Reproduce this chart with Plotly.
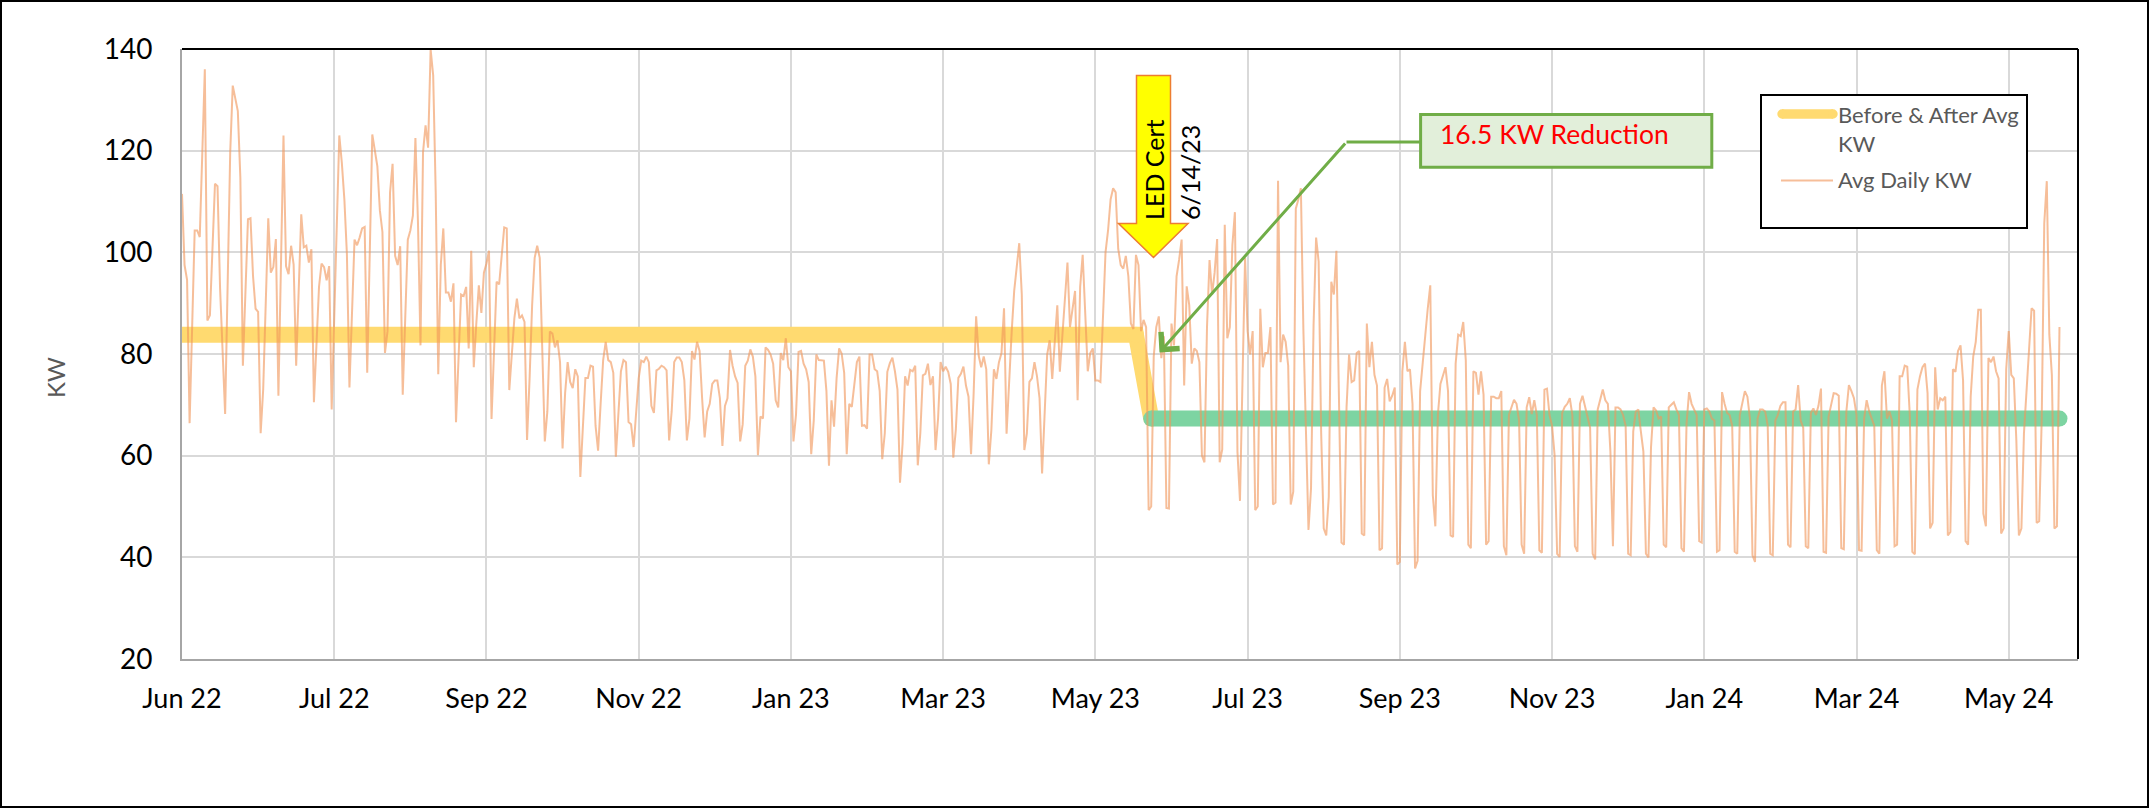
import pandas as pd
import plotly.graph_objects as go

# ---------------- data ----------------
start_date = "2022-06-01"
tick_labels = ["Jun 22", "Jul 22", "Sep 22", "Nov 22", "Jan 23", "Mar 23", "May 23",
               "Jul 23", "Sep 23", "Nov 23", "Jan 24", "Mar 24", "May 24"]
tick_step_days = 60
x_end_day = 747.3
y_ticks = [20, 40, 60, 80, 100, 120, 140]

# Avg Daily KW, Jun 2022 - Dec 2022 (day offset from start_date, value)
pre_days = [0, 1, 2, 3, 5, 6, 7, 9, 10, 11, 13, 14, 15, 17, 19, 20, 22, 23, 24, 26,
            27, 28, 29, 30, 31, 32, 34, 35, 36, 37, 38, 40, 41, 42, 43, 44, 45, 47, 48, 49,
            50, 51, 52, 54, 55, 56, 57, 58, 59, 62, 63, 64, 65, 66, 68, 69, 70, 71, 72, 73,
            75, 76, 77, 78, 79, 80, 81, 82, 83, 84, 85, 86, 87, 89, 90, 91, 92,
            93, 94, 95, 96, 97, 98, 99, 100, 101, 102, 103, 104, 105, 106, 107, 108,
            110, 111, 112, 113, 114, 115, 116, 117, 118, 119, 120, 121, 122,
            124, 125, 126, 127, 128, 129,
            131, 132, 133, 134, 135, 136, 137, 138, 139, 140, 141, 142, 143, 144, 145, 146,
            147, 148, 149, 150, 151, 152, 153, 154, 155, 156, 157,
            159, 160, 161, 162, 163, 164, 165, 166, 167, 168, 169, 170, 171,
            173, 174, 175, 176, 177, 178, 179, 180, 181, 182, 183, 184, 185]
pre_kw = [111.5, 97.5, 94.6, 66.4, 104.3, 104.3, 103, 136, 86.6, 87.6,
          113.5, 113, 93, 68.2, 119.7, 132.8, 127.8, 114.7, 77.7, 106.5,
          106.7, 95.3, 88.9, 88.3, 64.4, 73, 106.7, 96, 97.1, 102.6,
          71.8, 123, 97.3, 95.7, 101.3, 97.6, 77.7, 107.5, 101, 101.3,
          98, 100.6, 70.5, 93.2, 97.8, 97.1, 94.5, 97.3, 69.1, 123,
          117.6, 110.4, 99.6, 73.4, 102.5, 101.4, 102.9, 104.7, 105, 76.3,
          123.2, 119.7, 116.9, 108.2, 104, 80.2, 84.5, 111.8, 117.4, 99.3,
          97.5, 101.2, 72, 102.5, 104.3, 107.2, 122.5,
          106, 81.7, 119.7, 125, 120.6, 139.9, 134.8, 111.8, 76, 97.5, 104.7, 92.1, 92.1, 90.3, 93.9, 66.6,
          91.7, 91.4, 93.2, 81.1, 100.3, 77.4, 86, 93.5, 88.1, 96, 97.8, 100.3, 67.2,
          94.2, 93.7, 99.5, 104.9, 104.7, 72.9,
          87, 90.9, 87, 87.6, 86.3, 63.1, 75.2, 89.6, 98.9, 101.3, 98.9, 78.8, 62.8, 68.7, 84.4, 84,
          81.3, 82.7, 78.4, 61.4, 72.3, 78.4, 74.5, 73.3, 77, 75.6, 55.8,
          75.3, 75.3, 77.7, 77.5, 65.9, 61, 70.2, 78.8, 82.4, 78.8, 78.4, 76.3, 59.8,
          76.6, 78.8, 78.4, 66.6, 66.2, 61.7, 68, 75.2, 78.7, 78.4, 79.5, 78.4, 69.8]

# Avg Daily KW, one value per day from day 186 (Dec 4 2022) to day 740 (Jun 10 2024)
daily_first_day = 186
daily_kw = [
    68.4, 76.8, 77.1, 77.7, 77.4, 76.8, 63.0, 68.7, 78.4, 79.3,
    79.3, 78.4, 74.8, 63.0, 67.3, 80.6, 78.9, 82.4, 80.6, 71.3,
    63.6, 68.7, 70.2, 74.1, 74.8, 74.8, 71.3, 61.9, 69.8, 71.3,
    80.8, 77.7, 75.6, 74.3, 62.8, 66.2, 77.7, 78.7, 80.9, 79.5,
    75.6, 60.1, 67.7, 67.3, 81.3, 80.8, 79.9, 78.1, 70.9, 69.5,
    80.2, 78.8, 83.1, 77.4, 76.6, 62.8, 68.0, 80.4, 80.6, 78.1,
    77.0, 74.5, 60.3, 66.9, 79.9, 78.8, 78.8, 78.7, 72.7, 58.0,
    70.9, 65.7, 75.2, 81.1, 80.1, 76.3, 60.3, 70.2, 69.6, 74.1,
    78.4, 79.5, 65.9, 66.0, 65.3, 79.9, 79.9, 77.0, 76.6, 72.7,
    59.3, 64.4, 76.5, 78.2, 79.3, 76.6, 73.0, 54.7, 62.3, 75.6,
    73.8, 76.9, 76.6, 77.7, 58.1, 64.4, 75.8, 76.1, 78.1, 73.9,
    75.6, 61.1, 67.3, 78.4, 76.6, 77.5, 76.5, 74.1, 59.6, 65.1,
    75.3, 76.1, 77.5, 73.8, 71.6, 60.3, 72.0, 87.4, 79.7, 77.4,
    79.5, 77.0, 58.3, 65.0, 77.0, 75.1, 78.4, 80.2, 89.0, 64.3,
    74.8, 84.2, 92.4, 97.6, 101.8, 91.7, 61.1, 64.4, 74.5, 75.2,
    78.4, 75.6, 71.3, 56.5, 68.0, 79.9, 82.7, 75.1, 82.4, 89.6,
    76.5, 84.0, 91.7, 98.0, 85.3, 88.9, 92.4, 70.9, 93.2, 99.5,
    86.1, 76.6, 80.2, 81.1, 74.8, 74.8, 74.5, 87.4, 100.0, 104.3,
    110.4, 112.6, 111.8, 100.7, 97.5, 96.8, 99.3, 95.3, 86.0, 84.9,
    99.5, 97.5, 84.5, 86.7, 85.3, 49.3, 50.0, 79.5, 85.3, 87.4,
    79.2, 83.5, 49.7, 49.6, 86.0, 81.7, 95.3, 98.5, 102.5, 73.8,
    93.3, 89.6, 78.1, 81.1, 80.6, 78.4, 60.0, 58.7, 85.3, 98.5,
    91.7, 96.0, 102.6, 58.7, 61.2, 105.4, 83.1, 85.3, 101.4, 107.9,
    60.8, 51.1, 77.4, 98.9, 84.5, 79.9, 84.5, 49.3, 50.0, 88.9,
    77.4, 80.2, 80.2, 85.3, 50.4, 50.8, 114.1, 78.4, 83.8, 82.4,
    77.7, 50.4, 52.9, 108.6, 110.4, 112.6, 84.5, 65.1, 45.4, 53.6,
    85.6, 102.9, 98.2, 64.4, 45.7, 44.3, 51.9, 94.2, 91.7, 100.3,
    68.7, 42.9, 42.5, 69.5, 79.9, 74.5, 74.8, 80.2, 80.6, 44.7,
    44.3, 86.0, 77.4, 82.4, 75.9, 73.8, 41.4, 41.8, 73.4, 75.1,
    70.7, 71.8, 73.4, 38.6, 39.1, 76.6, 82.4, 76.6, 77.0, 70.2,
    37.8, 39.3, 72.7, 78.4, 84.2, 88.9, 93.5, 52.2, 46.1, 68.0,
    74.1, 75.6, 77.4, 72.7, 44.3, 44.0, 78.1, 83.8, 83.5, 86.3,
    78.8, 42.5, 41.8, 76.6, 76.3, 72.0, 76.6, 72.0, 42.5, 43.2,
    71.6, 71.6, 71.3, 71.3, 72.7, 42.2, 40.4, 68.0, 69.5, 71.0,
    70.2, 66.9, 42.5, 40.7, 69.5, 71.5, 68.2, 70.9, 68.0, 41.4,
    40.9, 73.0, 73.2, 68.0, 65.9, 60.1, 40.7, 40.1, 68.4, 69.6,
    70.2, 71.3, 68.0, 42.2, 41.1, 70.2, 71.8, 69.8, 68.0, 65.5,
    40.7, 39.6, 69.1, 70.9, 73.0, 70.9, 70.2, 60.8, 42.2, 69.5,
    69.5, 69.1, 68.0, 65.9, 40.7, 40.4, 64.8, 68.7, 69.1, 64.8,
    60.8, 40.7, 40.0, 61.6, 69.5, 68.9, 67.3, 67.7, 42.5, 42.0,
    69.5, 70.0, 70.5, 69.1, 68.0, 41.8, 41.1, 66.2, 72.5, 70.2,
    69.1, 68.0, 43.2, 42.9, 69.1, 69.3, 68.7, 67.3, 66.9, 41.1,
    41.4, 72.5, 70.2, 68.4, 68.0, 65.9, 41.1, 40.7, 68.0, 70.3,
    72.7, 71.6, 67.3, 40.4, 39.1, 67.3, 69.1, 69.1, 68.7, 65.9,
    40.7, 40.4, 66.9, 68.0, 69.8, 70.5, 70.5, 42.5, 42.0, 68.7,
    69.1, 73.9, 66.9, 65.5, 42.2, 41.8, 68.4, 69.3, 68.0, 69.8,
    73.2, 41.1, 40.9, 67.7, 69.8, 72.3, 72.2, 71.8, 41.8, 41.6,
    68.7, 73.9, 72.7, 71.3, 68.0, 41.4, 41.3, 67.3, 70.9, 68.7,
    67.3, 65.9, 41.4, 40.7, 73.8, 76.6, 67.3, 68.7, 66.9, 42.2,
    42.5, 75.6, 75.6, 77.7, 77.5, 68.0, 41.1, 40.6, 73.0, 75.6,
    77.4, 78.1, 72.3, 45.7, 46.8, 77.4, 69.1, 71.3, 70.9, 71.6,
    44.3, 45.0, 77.0, 76.5, 80.6, 81.7, 74.8, 43.2, 42.5, 71.6,
    79.5, 82.4, 88.7, 88.7, 48.6, 46.1, 79.2, 78.4, 79.5, 76.6,
    75.2, 44.7, 45.7, 77.0, 84.5, 75.9, 75.2, 63.0, 44.3, 45.7,
    64.4, 73.0, 80.2, 89.0, 88.5, 46.8, 47.1, 67.3, 105.7, 114.0,
    83.8, 75.9, 45.7, 46.1, 85.3,
]

# Before & After Avg KW (day offsets, values)
before_after_day = [0, 376, 382]
before_after_kw = [83.8, 83.8, 67.3]
after_day = [382, 740]
after_kw = [67.3, 67.3]

# ---------------- helpers ----------------
base = pd.Timestamp(start_date)


def to_dates(days):
    return [base + pd.Timedelta(days=float(d)) for d in days]


kw_day = pre_days + list(range(daily_first_day, daily_first_day + len(daily_kw)))
kw_value = pre_kw + daily_kw

W, H = 2149, 808
L, R, T, B = 182, 2078, 49, 659


def px(x):
    return (x - L) / (R - L)


def py(y):
    return (B - y) / (B - T)


FONT = "Lato, 'Liberation Sans', sans-serif"
YELLOW = "#FFDA70"
GREEN = "#7DD4A2"
ORANGE = "rgba(240,150,90,0.62)"
GRID = "#D9D9D9"
AXIS = "#A6A6A6"
CALLOUT = "#70AD47"
BAND = 16

fig = go.Figure()
fig.add_trace(go.Scatter(x=to_dates(before_after_day), y=before_after_kw, mode="lines+markers",
                         name="Before & After Avg KW",
                         line=dict(color=YELLOW, width=BAND),
                         marker=dict(color=YELLOW, size=[0, BAND, BAND], line=dict(width=0)),
                         showlegend=False))
fig.add_trace(go.Scatter(x=to_dates(after_day), y=after_kw, mode="lines+markers",
                         name="After Avg KW",
                         line=dict(color=GREEN, width=BAND),
                         marker=dict(color=GREEN, size=BAND, line=dict(width=0)),
                         showlegend=False))
fig.add_trace(go.Scatter(x=to_dates(kw_day), y=kw_value, mode="lines",
                         name="Avg Daily KW",
                         line=dict(color=ORANGE, width=2), showlegend=False))

tickvals = to_dates([i * tick_step_days for i in range(len(tick_labels))])

fig.update_layout(
    width=W, height=H,
    margin=dict(l=L, r=W - R, t=T, b=H - B),
    paper_bgcolor="white", plot_bgcolor="white",
    font=dict(family=FONT, color="black"),
    showlegend=False,
    xaxis=dict(type="date", range=to_dates([0, x_end_day]), tickvals=tickvals,
               ticktext=tick_labels, showgrid=True, gridcolor=GRID, gridwidth=1.5,
               showline=True, linecolor=AXIS, linewidth=2, ticks="", zeroline=False,
               tickfont=dict(family=FONT, size=27, color="black"), ticklabelstandoff=15),
    yaxis=dict(range=[20, 140], tickvals=y_ticks, showgrid=True, gridcolor=GRID,
               gridwidth=1.5, showline=True, linecolor=AXIS, linewidth=2, ticks="",
               zeroline=False, tickfont=dict(family=FONT, size=28, color="black"),
               ticklabelstandoff=22),
)

shapes = []
# outer chart border
shapes.append(dict(type="rect", xref="paper", yref="paper", x0=px(1), x1=px(W - 1),
                   y0=py(H - 1), y1=py(1), line=dict(color="black", width=2)))
# plot area top and right border
shapes.append(dict(type="line", xref="paper", yref="paper", x0=0, x1=1, y0=1, y1=1,
                   line=dict(color="black", width=2)))
shapes.append(dict(type="line", xref="paper", yref="paper", x0=1, x1=1, y0=0, y1=1,
                   line=dict(color="black", width=2)))

# legend box
shapes.append(dict(type="rect", xref="paper", yref="paper", x0=px(1761), x1=px(2027),
                   y0=py(228), y1=py(95), fillcolor="white",
                   line=dict(color="black", width=2)))
shapes.append(dict(type="rect", xref="paper", yref="paper", x0=px(1782), x1=px(1833),
                   y0=py(118.7), y1=py(109.3), fillcolor=YELLOW, line=dict(width=0)))
for cx in (1782, 1833):
    shapes.append(dict(type="circle", xref="paper", yref="paper", x0=px(cx - 4.7),
                       x1=px(cx + 4.7), y0=py(118.7), y1=py(109.3), fillcolor=YELLOW,
                       line=dict(width=0)))
shapes.append(dict(type="line", xref="paper", yref="paper", x0=px(1781), x1=px(1833),
                   y0=py(180.5), y1=py(180.5), line=dict(color=ORANGE, width=2)))

# LED Cert block arrow
pts = [(1136.5, 75.5), (1170.5, 75.5), (1170.5, 223.5), (1188, 223.5), (1153.5, 257.5),
       (1118.5, 223.5), (1136.5, 223.5)]
path = "M " + " L ".join(f"{px(a):.5f},{py(b):.5f}" for a, b in pts) + " Z"
shapes.append(dict(type="path", xref="paper", yref="paper", path=path,
                   fillcolor="#FFFF00", line=dict(color="#ED7D31", width=1.5)))

# callout box and connector
shapes.append(dict(type="rect", xref="paper", yref="paper", x0=px(1420.6), x1=px(1711.8),
                   y0=py(167.2), y1=py(114.5), fillcolor="#E2EFDA",
                   line=dict(color=CALLOUT, width=3)))
shapes.append(dict(type="line", xref="paper", yref="paper", x0=px(1346.5), x1=px(1420.6),
                   y0=py(142), y1=py(142), line=dict(color=CALLOUT, width=3)))
fig.update_layout(shapes=shapes)

ann = []
ann.append(dict(text="KW", xref="paper", yref="paper", x=px(55), y=py(378),
                textangle=-90, showarrow=False, xanchor="center", yanchor="middle",
                font=dict(family=FONT, size=24, color="#595959")))
ann.append(dict(text="Before & After Avg<br>KW", xref="paper", yref="paper", x=px(1836),
                y=py(129), xanchor="left", yanchor="middle", align="left",
                showarrow=False, font=dict(family=FONT, size=22, color="#595959")))
ann.append(dict(text="Avg Daily KW", xref="paper", yref="paper", x=px(1836), y=py(179.5),
                xanchor="left", yanchor="middle", align="left", showarrow=False,
                font=dict(family=FONT, size=22, color="#595959")))
ann.append(dict(text="LED Cert", xref="paper", yref="paper", x=px(1154.6), y=py(170.3),
                textangle=-90, showarrow=False, xanchor="center", yanchor="middle",
                font=dict(family=FONT, size=25, color="black")))
ann.append(dict(text="6/14/23", xref="paper", yref="paper", x=px(1189.4), y=py(172.5),
                textangle=-90, showarrow=False, xanchor="center", yanchor="middle",
                font=dict(family=FONT, size=25, color="black")))
ann.append(dict(text="16.5 KW Reduction", xref="paper", yref="paper", x=px(1438),
                y=py(133.5), xanchor="left", yanchor="middle", showarrow=False,
                font=dict(family=FONT, size=26.5, color="#FF0000")))
ann.append(dict(text="", xref="paper", yref="paper", x=px(1159.5), y=py(352.4),
                ax=1346.5 - 1159.5, ay=142 - 352.4, axref="pixel", ayref="pixel",
                showarrow=True, arrowhead=4, arrowsize=1.6, arrowwidth=3,
                arrowcolor=CALLOUT, standoff=0))
fig.update_layout(annotations=ann)

fig.write_html("out.html", config={"displayModeBar": False},
               post_script="document.body.style.margin='0';document.body.style.overflow='hidden';")
